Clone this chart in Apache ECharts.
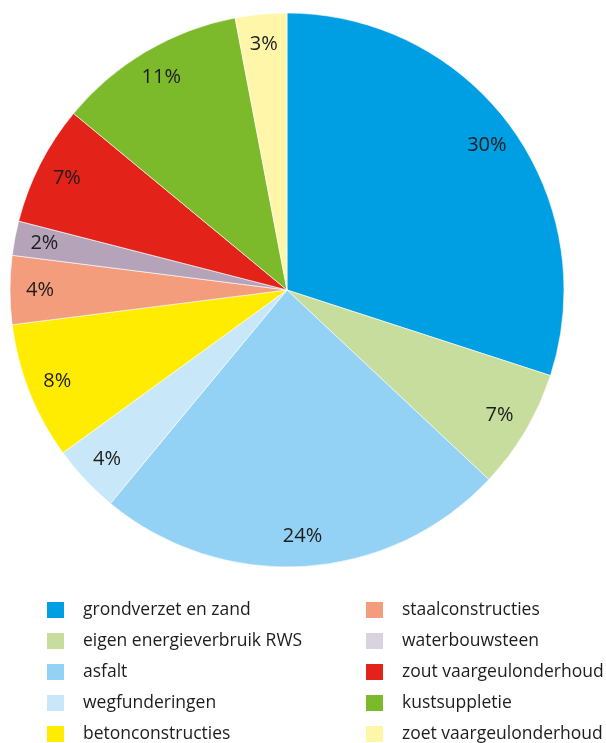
<!DOCTYPE html>
<html>
<head>
<meta charset="utf-8">
<script src="https://cdn.jsdelivr.net/npm/echarts@6/dist/echarts.min.js"></script>
<style>
  * { margin: 0; padding: 0; }
  html, body { width: 606px; height: 743px; background: #fff; overflow: hidden; }
  #main { width: 606px; height: 743px; }
</style>
</head>
<body>
<div id="main"></div>
<script>
  // categorieen, met de klok mee vanaf boven
  var categories = [
    'grondverzet en zand', 'eigen energieverbruik RWS', 'asfalt', 'wegfunderingen',
    'betonconstructies', 'staalconstructies', 'waterbouwsteen', 'zout vaargeulonderhoud',
    'kustsuppletie', 'zoet vaargeulonderhoud'
  ];
  var percentages = [30, 7, 24, 4, 8, 4, 2, 7, 11, 3];
  var sliceColors = ['#009fe3', '#c7dd9d', '#93d2f4', '#c8e7f8', '#ffec00',
                     '#f39d7d', '#b5a3ba', '#e32219', '#7cba2c', '#fff6aa'];
  var legendColors = ['#009fe3', '#c7dd9d', '#93d2f4', '#c8e7f8', '#ffec00',
                      '#f39d7d', '#d9d3e0', '#e32219', '#7cba2c', '#fff6aa'];

  var font = '"Open Sans", "Noto Sans", sans-serif';

  var pieData = categories.map(function (c, i) {
    return { name: c, value: percentages[i], itemStyle: { color: sliceColors[i] } };
  });
  // alleen voor de labels (transparante ring)
  var labelData = categories.map(function (c, i) {
    return { name: c, value: percentages[i] };
  });

  function legendItems(from, to) {
    var arr = [];
    for (var i = from; i < to; i++) {
      arr.push({ name: categories[i], itemStyle: { color: legendColors[i] } });
    }
    return arr;
  }

  var legendBase = {
    orient: 'vertical',
    top: 595,
    height: 200,
    icon: 'rect',
    itemWidth: 19,
    itemHeight: 18,
    itemGap: 11,
    selectedMode: false,
    textStyle: {
      fontFamily: font,
      fontSize: 17.5,
      color: '#1d1d1b',
      lineHeight: 18,
      padding: [0, 0, 0, 13]
    }
  };

  var chart = echarts.init(document.getElementById('main'));
  chart.setOption({
    animation: false,
    backgroundColor: '#fff',
    legend: [
      Object.assign({}, legendBase, { left: 40, data: legendItems(0, 5) }),
      Object.assign({}, legendBase, { left: 359, data: legendItems(5, 10) })
    ],
    series: [{
      name: 'pie',
      type: 'pie',
      center: [287, 290],
      radius: [0, 277],
      startAngle: 90,
      clockwise: true,
      silent: true,
      label: { show: false },
      labelLine: { show: false },
      itemStyle: { borderColor: '#ffffff', borderWidth: 0.6 },
      data: pieData
    }, {
      name: 'labels',
      type: 'pie',
      center: [287, 290],
      radius: [212, 276],
      startAngle: 90,
      clockwise: true,
      silent: true,
      legendHoverLink: false,
      itemStyle: { color: 'rgba(0,0,0,0)', borderWidth: 0 },
      label: {
        show: true,
        position: 'inside',
        formatter: '{c}%',
        fontFamily: font,
        fontSize: 20,
        color: '#1d1d1b'
      },
      labelLine: { show: false },
      data: labelData
    }]
  });
</script>
</body>
</html>
